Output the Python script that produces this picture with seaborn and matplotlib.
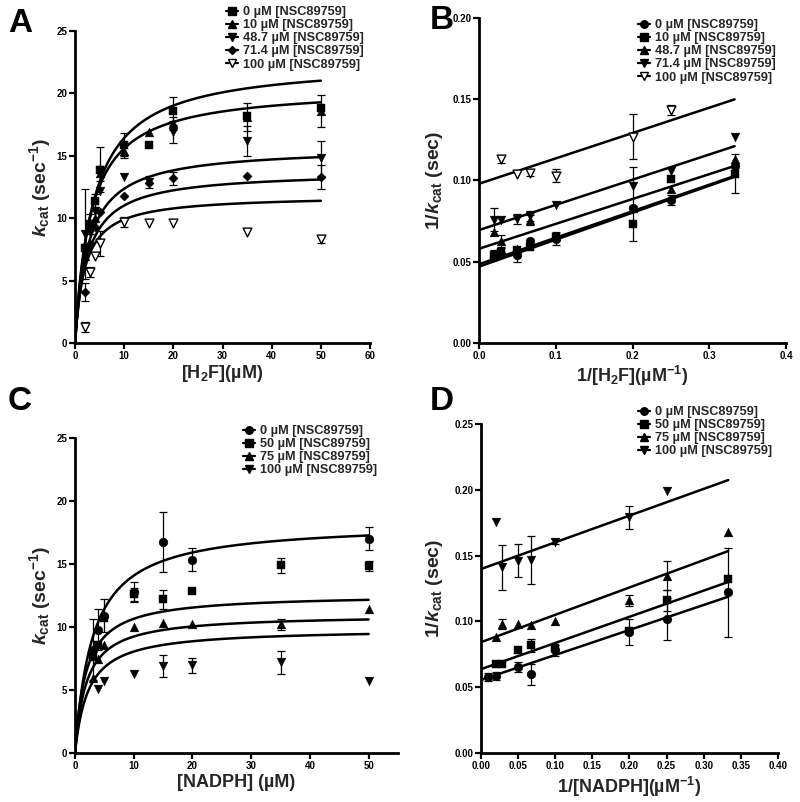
import numpy as np
import pandas as pd
import matplotlib
matplotlib.use('Agg')
import matplotlib.pyplot as plt
import seaborn as sns
from matplotlib.lines import Line2D

sns.set_theme(style='ticks')
plt.rcParams['font.family'] = ['Liberation Sans', 'DejaVu Sans']
plt.rcParams['font.weight'] = 'bold'
plt.rcParams['mathtext.fontset'] = 'custom'
plt.rcParams['mathtext.rm'] = 'Liberation Sans:bold'
plt.rcParams['mathtext.it'] = 'Liberation Sans:italic:bold'
plt.rcParams['mathtext.bf'] = 'Liberation Sans:bold'

# ---------------- Panel A: kcat vs [H2F] ----------------
a_x = [2, 3, 4, 5, 10, 15, 20, 35, 50]
a_labels = ['0 µM [NSC89759]', '10 µM [NSC89759]', '48.7 µM [NSC89759]',
            '71.4 µM [NSC89759]', '100 µM [NSC89759]']
a_0 = [7.6, 9.5, 11.4, 13.9, 15.9, 15.9, 18.6, 18.2, 18.8]
a_0_err = [0, 0.8, 0.5, 1.8, 0.9, 0, 1.1, 0, 0]
a_10 = [7.0, 9.6, 10.0, 13.6, 15.4, 16.9, 17.6, 18.1, 18.6]
a_10_err = [0, 0, 0, 0.6, 0.6, 0, 0.5, 1.1, 1.3]
a_48 = [8.7, 8.9, 10.6, 12.2, 13.3, 12.9, 16.9, 16.2, 14.8]
a_48_err = [3.6, 0, 0.8, 0, 0, 0.5, 0.9, 1.2, 1.4]
a_71 = [4.1, 7.9, 9.3, 10.5, 11.8, 12.8, 13.2, 13.4, 13.3]
a_71_err = [0.7, 0, 0, 0, 0, 0, 0.5, 0, 1.0]
a_100 = [1.3, 5.7, 7.0, 8.0, 9.7, 9.6, 9.6, 8.9, 8.3]
a_100_err = [0.4, 0.4, 0, 1.0, 0.4, 0, 0, 0, 0.3]
a_vmax = [22.6, 20.5, 15.7, 13.75, 11.84]
a_km = [3.76, 3.15, 2.7, 2.48, 1.96]

# ---------------- Panel B: double reciprocal [H2F] ----------------
b_x = [0.02, 0.0286, 0.05, 0.0667, 0.1, 0.2, 0.25, 0.333]
b_labels = a_labels
b_0 = [0.053, 0.055, 0.054, 0.063, 0.064, 0.083, 0.088, 0.109]
b_0_err = [0, 0, 0.004, 0, 0.004, 0, 0.003, 0]
b_10 = [0.054, 0.056, 0.057, 0.059, 0.065, 0.073, 0.101, 0.104]
b_10_err = [0.003, 0.003, 0, 0, 0, 0.010, 0, 0.012]
b_48 = [0.068, 0.0625, 0.058, 0.0755, 0.066, 0.083, 0.095, 0.113]
b_48_err = [0, 0.004, 0, 0.003, 0, 0, 0, 0]
b_71 = [0.0759, 0.0755, 0.0763, 0.078, 0.0852, 0.0964, 0.106, 0.1266]
b_71_err = [0.007, 0, 0.003, 0.003, 0, 0.012, 0, 0]
b_100 = [np.nan, 0.113, 0.104, 0.1045, 0.103, 0.127, 0.1436, np.nan]
b_100_err = [0, 0.002, 0, 0.002, 0.004, 0.014, 0.003, 0]
b_intercept = [0.0485, 0.047, 0.058, 0.0695, 0.098]
b_slope = [0.163, 0.166, 0.153, 0.155, 0.156]

# ---------------- Panel C: kcat vs [NADPH] ----------------
c_labels = ['0 µM [NSC89759]', '50 µM [NSC89759]', '75 µM [NSC89759]', '100 µM [NSC89759]']
c_0_x = [3, 4, 5, 10, 15, 20, 50]
c_0 = [8.2, 9.8, 10.9, 12.8, 16.75, 15.35, 17.0]
c_0_err = [2.4, 1.6, 1.3, 0.8, 2.35, 0.9, 0.9]
c_50_x = [3, 4, 5, 10, 15, 20, 35, 50]
c_50 = [7.6, 8.6, 10.75, 12.6, 12.2, 12.85, 14.9, 14.85]
c_50_err = [0, 0, 0, 0.5, 0.75, 0, 0.6, 0.4]
c_75_x = [3, 4, 5, 10, 15, 20, 35, 50]
c_75 = [5.95, 7.5, 8.6, 10.0, 10.3, 10.2, 10.2, 11.4]
c_75_err = [0, 0, 0, 0, 0, 0, 0.4, 0]
c_100_x = [4, 5, 10, 15, 20, 35, 50]
c_100 = [5.05, 5.7, 6.3, 6.9, 6.95, 7.2, 5.75]
c_100_err = [0, 0, 0, 0.85, 0.6, 0.9, 0]
c_vmax = [18.3, 12.6, 11.0, 9.87]
c_km = [3.0, 1.83, 1.9, 2.26]

# ---------------- Panel D: double reciprocal [NADPH] ----------------
d_0_x = [0.01, 0.02, 0.05, 0.0667, 0.1, 0.2, 0.25, 0.333]
d_0 = [0.0575, 0.0585, 0.0655, 0.060, 0.078, 0.092, 0.102, 0.122]
d_0_err = [0.003, 0.003, 0.004, 0.008, 0.004, 0.010, 0.016, 0.034]
d_50_x = [0.02, 0.0286, 0.05, 0.0667, 0.1, 0.2, 0.25, 0.333]
d_50 = [0.0675, 0.0675, 0.078, 0.082, 0.080, 0.093, 0.116, 0.132]
d_50_err = [0, 0, 0, 0.005, 0, 0, 0.008, 0]
d_75_x = [0.02, 0.0286, 0.05, 0.0667, 0.1, 0.2, 0.25, 0.333]
d_75 = [0.088, 0.098, 0.098, 0.097, 0.100, 0.116, 0.1348, 0.168]
d_75_err = [0, 0.004, 0, 0, 0, 0.004, 0.011, 0]
d_100_x = [0.02, 0.0286, 0.05, 0.0667, 0.1, 0.2, 0.25]
d_100 = [0.1753, 0.141, 0.146, 0.1467, 0.1606, 0.179, 0.199]
d_100_err = [0, 0.017, 0.0125, 0.018, 0.002, 0.0085, 0]
d_intercept = [0.0555, 0.0637, 0.0842, 0.1398]
d_slope = [0.19, 0.199, 0.208, 0.203]

W, H = 800, 802
fig = plt.figure(figsize=(W / 100, H / 100), dpi=100)


def ax_at(l, r, b, t):
    return fig.add_axes([l / W, 1 - b / H, (r - l) / W, (b - t) / H])


axA = ax_at(75, 370, 343, 31)
axB = ax_at(479, 786, 343, 18)
axC = ax_at(75, 398, 753, 438)
axD = ax_at(481, 778, 753, 424)

LW = 1.8
MK_S = {'s': 38, '^': 40, 'v': 40, 'o': 40, 'D': 22}
MK_LEG = {'s': 5.2, '^': 5.4, 'v': 5.4, 'o': 5.4, 'D': 4.0}
LEG_FS = 9.2


def style(ax, xlim, xt, xfmt, ylim, yt, yfmt):
    ax.set_xlim(*xlim)
    ax.set_ylim(*ylim)
    ax.set_xticks(xt)
    ax.set_yticks(yt)
    ax.set_xticklabels([xfmt.format(v) for v in xt])
    ax.set_yticklabels([yfmt.format(v) for v in yt])
    sns.despine(ax=ax)
    for s in ('left', 'bottom'):
        ax.spines[s].set_linewidth(2.0)
        ax.spines[s].set_color('black')
    ax.tick_params(direction='out', length=4, width=1.6, labelsize=7,
                   colors='black', pad=1.5)
    for lab in ax.get_xticklabels() + ax.get_yticklabels():
        lab.set_fontweight('bold')
    ax.set_facecolor('white')


def points(ax, x, y, err, marker, open_=False):
    x = np.asarray(x, float)
    y = np.asarray(y, float)
    err = np.asarray(err, float)
    m = (err > 0) & ~np.isnan(y)
    if m.any():
        ax.errorbar(x[m], y[m], yerr=err[m], fmt='none', ecolor='black',
                    elinewidth=0.9, capsize=3.2, capthick=0.9, zorder=2)
    df = pd.DataFrame({'x': x, 'y': y}).dropna()
    sns.scatterplot(data=df, x='x', y='y', ax=ax, marker=marker, s=MK_S[marker],
                    color='white' if open_ else 'black', edgecolor='black',
                    linewidth=1.0 if open_ else 0.3, zorder=3, legend=False)


def curve(ax, xs, ys):
    df = pd.DataFrame({'x': xs, 'y': ys})
    sns.lineplot(data=df, x='x', y='y', ax=ax, color='black', lw=LW,
                 estimator=None, sort=False, zorder=2.5, legend=False)


def legend(ax, labels, markers, opens, left, top):
    handles = [Line2D([0], [0], color='black', lw=1.6, marker=m, markersize=MK_LEG[m],
                      markerfacecolor='white' if o else 'black',
                      markeredgecolor='black', label=l)
               for l, m, o in zip(labels, markers, opens)]
    ax.legend(handles=handles, loc='upper left',
              bbox_to_anchor=(left / W, 1 - top / H), bbox_transform=fig.transFigure,
              frameon=False, handlelength=0.95, handletextpad=0.4,
              labelspacing=0.09, borderpad=0, borderaxespad=0,
              prop={'weight': 'bold', 'size': LEG_FS})


YL_FS = 14
XL_FS = 13

# ---- Panel A ----
mm_x = np.linspace(0, 50, 300)
for v, k in zip(a_vmax, a_km):
    curve(axA, mm_x, v * mm_x / (k + mm_x))
a_markers = ['s', '^', 'v', 'D', 'v']
a_opens = [False, False, False, False, True]
for yv, ev, mk, op in zip([a_0, a_10, a_48, a_71, a_100],
                          [a_0_err, a_10_err, a_48_err, a_71_err, a_100_err],
                          a_markers, a_opens):
    points(axA, a_x, yv, ev, mk, op)
style(axA, (0, 60), list(range(0, 61, 10)), '{:d}', (0, 25), list(range(0, 26, 5)), '{:d}')
axA.set_xlabel('[H$_2$F](µM)', fontsize=XL_FS, fontweight='bold')
axA.set_ylabel('$k_{\\rm cat}$ (sec$^{-1}$)', fontsize=YL_FS, fontweight='bold')
axA.xaxis.set_label_coords(0.5, -0.065)
axA.yaxis.set_label_coords(-0.075, 0.5)
legend(axA, a_labels, a_markers, a_opens, 226, 6)

# ---- Panel B ----
lx = np.linspace(0, 0.333, 50)
for b0, sl in zip(b_intercept, b_slope):
    curve(axB, lx, b0 + sl * lx)
b_markers = ['o', 's', '^', 'v', 'v']
for yv, ev, mk, op in zip([b_0, b_10, b_48, b_71, b_100],
                          [b_0_err, b_10_err, b_48_err, b_71_err, b_100_err],
                          b_markers, a_opens):
    points(axB, b_x, yv, ev, mk, op)
style(axB, (0, 0.4), [0, 0.1, 0.2, 0.3, 0.4], '{:.1f}', (0, 0.2),
      [0, 0.05, 0.1, 0.15, 0.2], '{:.2f}')
axB.set_xlabel('1/[H$_2$F](µM$^{-1}$)', fontsize=XL_FS, fontweight='bold')
axB.set_ylabel('1/$k_{\\rm cat}$ (sec)', fontsize=YL_FS, fontweight='bold')
axB.xaxis.set_label_coords(0.5, -0.065)
axB.yaxis.set_label_coords(-0.11, 0.5)
legend(axB, b_labels, b_markers, a_opens, 638, 19)

# ---- Panel C ----
for v, k in zip(c_vmax, c_km):
    curve(axC, mm_x, v * mm_x / (k + mm_x))
c_markers = ['o', 's', '^', 'v']
for xv, yv, ev, mk in zip([c_0_x, c_50_x, c_75_x, c_100_x], [c_0, c_50, c_75, c_100],
                          [c_0_err, c_50_err, c_75_err, c_100_err], c_markers):
    points(axC, xv, yv, ev, mk)
style(axC, (0, 55), list(range(0, 51, 10)), '{:d}', (0, 25), list(range(0, 26, 5)), '{:d}')
axC.set_xlabel('[NADPH] (µM)', fontsize=XL_FS, fontweight='bold')
axC.set_ylabel('$k_{\\rm cat}$ (sec$^{-1}$)', fontsize=YL_FS, fontweight='bold')
axC.xaxis.set_label_coords(0.5, -0.068)
axC.yaxis.set_label_coords(-0.068, 0.5)
legend(axC, c_labels, c_markers, [False] * 4, 243, 425)

# ---- Panel D ----
for d0, sl in zip(d_intercept, d_slope):
    curve(axD, lx, d0 + sl * lx)
for xv, yv, ev, mk in zip([d_0_x, d_50_x, d_75_x, d_100_x], [d_0, d_50, d_75, d_100],
                          [d_0_err, d_50_err, d_75_err, d_100_err], c_markers):
    points(axD, xv, yv, ev, mk)
d_xt = [0, 0.05, 0.1, 0.15, 0.2, 0.25, 0.3, 0.35, 0.4]
style(axD, (0, 0.4), d_xt, '{:.2f}', (0, 0.25), [0, 0.05, 0.1, 0.15, 0.2, 0.25], '{:.2f}')
axD.set_xlabel('1/[NADPH](µM$^{-1}$)', fontsize=XL_FS, fontweight='bold')
axD.set_ylabel('1/$k_{\\rm cat}$ (sec)', fontsize=YL_FS, fontweight='bold')
axD.xaxis.set_label_coords(0.5, -0.068)
axD.yaxis.set_label_coords(-0.121, 0.5)
legend(axD, c_labels, c_markers, [False] * 4, 638, 406)

# panel letters
for letter, x, y in [('A', 8, 8), ('B', 430, 5), ('C', 8, 386), ('D', 430, 386)]:
    fig.text(x / W, 1 - y / H, letter, fontsize=24, fontweight='bold',
             va='top', ha='left', color='black')

fig.savefig('out.png', dpi=100, facecolor='white')
